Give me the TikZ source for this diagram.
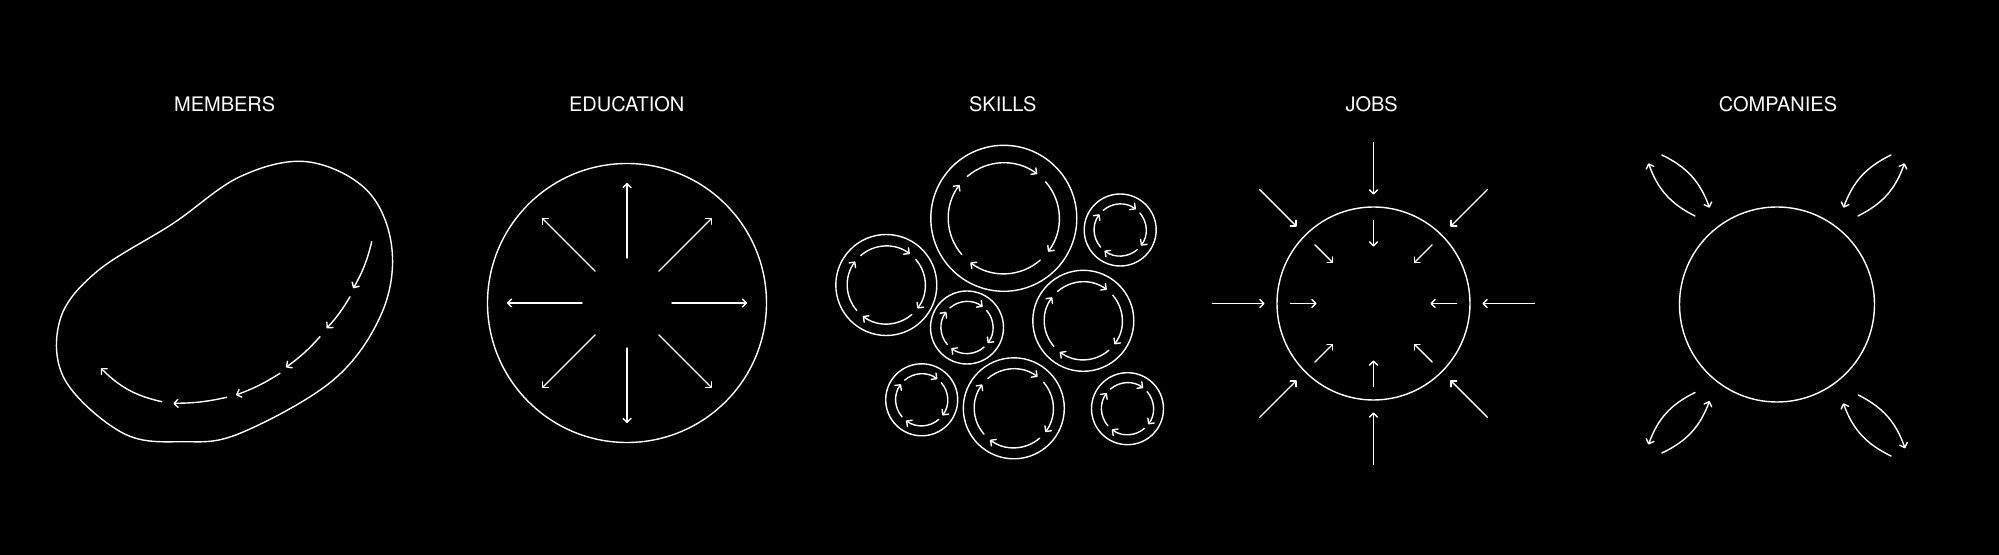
\documentclass[tikz,border=0pt]{standalone}
\usepackage{fontspec}
\setmainfont{TeX Gyre Heros}
\usetikzlibrary{arrows.meta,calc}
\newcommand\skillring[4]{%
  \coordinate (#1) at #2;
  \draw[ln] (#1) circle[radius=#3];
  \foreach \c [evaluate=\c as \s using -(\c+41), evaluate=\c as \e using -(\c-37)] in {90,0,-90,-180}{
    \draw[arr] ([shift={(#1)}]\s:#4) arc[start angle=\s, end angle=\e, radius=#4];
  }%
}
\begin{document}
\begin{tikzpicture}[x=0.5pt,y=-0.5pt,
  ln/.style={draw=white,line width=0.7pt,line cap=round},
  arr/.style={ln,-{Straight Barb[length=2pt,width=4pt,round]}},
  lbl/.style={text=white,font=\fontsize{10pt}{12pt}\selectfont,inner sep=0pt}]
\fill[black] (0,0) rectangle (1999,555);
\useasboundingbox (0,0) rectangle (1999,555);

% labels
\node[lbl] (members) at (224.7,104) {MEMBERS};
\node[lbl] (education) at (626.7,104) {EDUCATION};
\node[lbl] (skills) at (1002.8,104) {SKILLS};
\node[lbl] (jobs) at (1371.7,104) {JOBS};
\node[lbl] (companies) at (1778,104) {COMPANIES};

% MEMBERS blob
\draw[ln] plot[smooth cycle, tension=0.6] coordinates {
  (306.7,161.7) (366.7,190) (391.7,246.7) (381.7,313.3) (333.3,380)
  (240,433.3) (183.3,441.7) (123.3,433.3) (65,380) (60,320)
  (96.7,271.7) (173.3,223.3) (240,176.7)};
\coordinate (m1a) at (371.7,241.7); \coordinate (m1b) at (353.3,288.3);
\coordinate (m2a) at (350,296.7);   \coordinate (m2b) at (326.7,328.3);
\coordinate (m3a) at (320,336.7);   \coordinate (m3b) at (286,367.3);
\coordinate (m4a) at (280,373.3);   \coordinate (m4b) at (236,395);
\coordinate (m5a) at (226.7,397.3); \coordinate (m5b) at (173.3,403.3);
\coordinate (m6a) at (161.7,401.7); \coordinate (m6b) at (101,368.3);
\draw[arr] (m1a) to[bend left=8] (m1b);
\draw[arr] (m2a) to[bend left=6] (m2b);
\draw[arr] (m3a) to[bend left=6] (m3b);
\draw[arr] (m4a) to[bend left=6] (m4b);
\draw[arr] (m5a) to[bend left=6] (m5b);
\draw[arr] (m6a) to[bend left=16] (m6b);

% EDUCATION
\coordinate (eduC) at (627,303);
\draw[ln] (eduC) circle[radius=139.5];
\foreach \a in {0,45,...,315}
  \draw[arr] ([shift={(eduC)}]\a:45) -- ([shift={(eduC)}]\a:120);

% SKILLS
\skillring{sA}{(1003.8,218.3)}{73}{55.5}
\skillring{sB}{(1120.2,230)}{36}{26}
\skillring{sC}{(886.3,285)}{50.5}{39}
\skillring{sD}{(967,327.5)}{36.5}{26}
\skillring{sE}{(1083.3,320.8)}{50.5}{39}
\skillring{sF}{(921.7,399.8)}{36}{26}
\skillring{sG}{(1013.8,408.3)}{50.5}{39.5}
\skillring{sH}{(1127.5,408.7)}{36}{26}

% JOBS
\coordinate (jobsC) at (1373.5,303.5);
\draw[ln] (jobsC) circle[radius=96.5];
\foreach \a in {0,45,...,315}{
  \draw[arr] ([shift={(jobsC)}]\a:161) -- ([shift={(jobsC)}]\a:109);
  \draw[arr] ([shift={(jobsC)}]\a:83) -- ([shift={(jobsC)}]\a:57);
}

% COMPANIES
\coordinate (compC) at (1777,304.5);
\draw[ln] (compC) circle[radius=97.5];
\draw[arr] ($(compC)+(-115,-149.5)$) to[bend left=22] ($(compC)+(-67.5,-96.8)$);
\draw[arr] ($(compC)+(-82,-88.5)$) to[bend left=22] ($(compC)+(-128.5,-141.2)$);
\draw[arr] ($(compC)+(114,-149.5)$) to[bend right=22] ($(compC)+(66.5,-96.8)$);
\draw[arr] ($(compC)+(81,-88.5)$) to[bend right=22] ($(compC)+(127.5,-141.2)$);
\draw[arr] ($(compC)+(-82,88)$) to[bend right=22] ($(compC)+(-128.5,140)$);
\draw[arr] ($(compC)+(-115,148.5)$) to[bend right=22] ($(compC)+(-67.5,96.5)$);
\draw[arr] ($(compC)+(81.3,90.5)$) to[bend left=22] ($(compC)+(128,143.8)$);
\draw[arr] ($(compC)+(114,151.5)$) to[bend left=22] ($(compC)+(66.3,98.8)$);
\end{tikzpicture}
\end{document}
